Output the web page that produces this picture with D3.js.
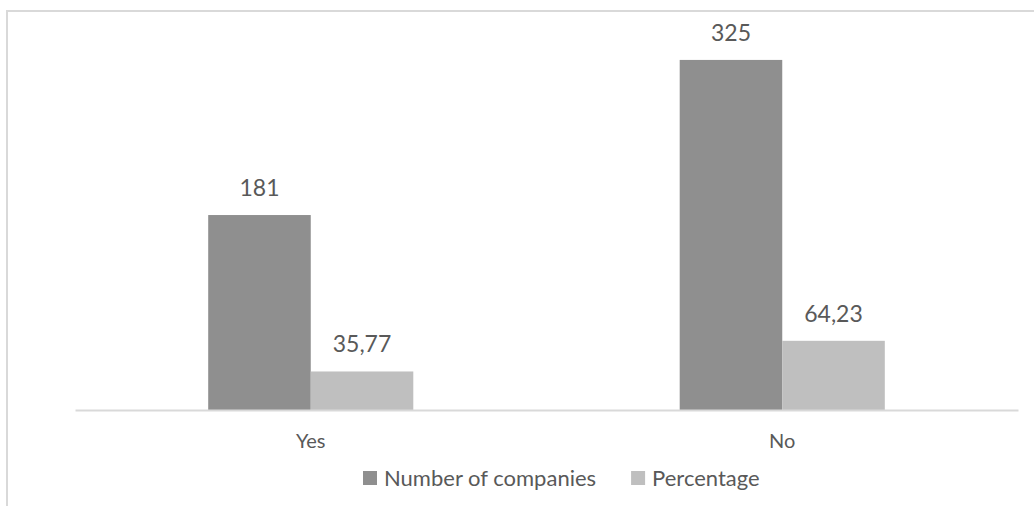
<!DOCTYPE html>
<html>
<head>
<meta charset="utf-8">
<script src="https://cdn.jsdelivr.net/npm/d3@7"></script>
<style>
  body { margin: 0; background: #fff; }
  svg { display: block; }
  text { font-family: Lato, "Liberation Sans", sans-serif; fill: #595959; }
</style>
</head>
<body>
<svg id="bar-chart" width="1034" height="506"></svg>
<script>
// chart values
let categories = ["Yes", "No"];
let seriesNames = ["Number of companies", "Percentage"];
let companies = [181, 325];
let percentage = [35.77, 64.23];
let yMax = 350; // hidden value axis max

let colors = ["#8f8f8f", "#bfbfbf"];

let drawBarChart = function() {
  let svg = d3.select("#bar-chart");

  // comma as decimal separator, like the source
  let locale = d3.formatLocale({decimal: ",", thousands: ".", grouping: [3], currency: ["", ""]});
  let fmt = v => Number.isInteger(v) ? String(v) : locale.format(".2f")(v);

  // outer frame (only top and left edges show)
  svg.append("rect")
    .attr("x", 7).attr("y", 11)
    .attr("width", 1060).attr("height", 520)
    .attr("fill", "none")
    .attr("stroke", "#d9d9d9")
    .attr("stroke-width", 2);

  let margin = {top: 33, left: 75, right: 1018, bottom: 410};

  let x0 = d3.scaleBand()
    .domain(categories)
    .range([margin.left, margin.right])
    .paddingInner(0.565)
    .paddingOuter(0.2825);

  let x1 = d3.scaleBand()
    .domain(seriesNames)
    .range([0, x0.bandwidth()]);

  let y = d3.scaleLinear()
    .domain([0, yMax])
    .range([margin.bottom, margin.top]);

  let rows = categories.map((c, i) => ({
    cat: c,
    values: [
      {key: seriesNames[0], value: companies[i]},
      {key: seriesNames[1], value: percentage[i]}
    ]
  }));

  let color = d3.scaleOrdinal().domain(seriesNames).range(colors);

  let groups = svg.append("g").selectAll("g")
    .data(rows)
    .join("g")
      .attr("transform", d => "translate(" + x0(d.cat) + ",0)");

  groups.selectAll("rect")
    .data(d => d.values)
    .join("rect")
      .attr("x", d => x1(d.key))
      .attr("y", d => y(d.value))
      .attr("width", x1.bandwidth())
      .attr("height", d => y(0) - y(d.value))
      .attr("fill", d => color(d.key));

  // data labels
  groups.selectAll("text")
    .data(d => d.values)
    .join("text")
      .attr("x", d => x1(d.key) + x1.bandwidth() / 2)
      .attr("y", d => y(d.value) - 19)
      .attr("text-anchor", "middle")
      .style("font-size", "23px")
      .text(d => fmt(d.value));

  // category axis
  let xAxis = d3.axisBottom(x0).tickSize(0).tickPadding(24);
  let xGroup = svg.append("g")
    .attr("transform", "translate(0," + margin.bottom + ")")
    .call(xAxis);
  xGroup.select(".domain")
    .attr("stroke", "#d9d9d9")
    .attr("stroke-width", 2);
  xGroup.selectAll("text")
    .style("font-size", "20px")
    .attr("fill", "#595959");

  // legend
  let legend = svg.append("g").attr("transform", "translate(363,486)");
  let lx = 0;
  seriesNames.forEach((name, i) => {
    let item = legend.append("g").attr("transform", "translate(" + lx + ",0)");
    item.append("rect")
      .attr("x", 0).attr("y", -15)
      .attr("width", 14).attr("height", 14)
      .attr("fill", colors[i]);
    let t = item.append("text")
      .attr("x", 21).attr("y", 0)
      .style("font-size", "22px")
      .text(name);
    lx += 21 + t.node().getComputedTextLength() + 35;
  });
};

drawBarChart();
</script>
</body>
</html>
